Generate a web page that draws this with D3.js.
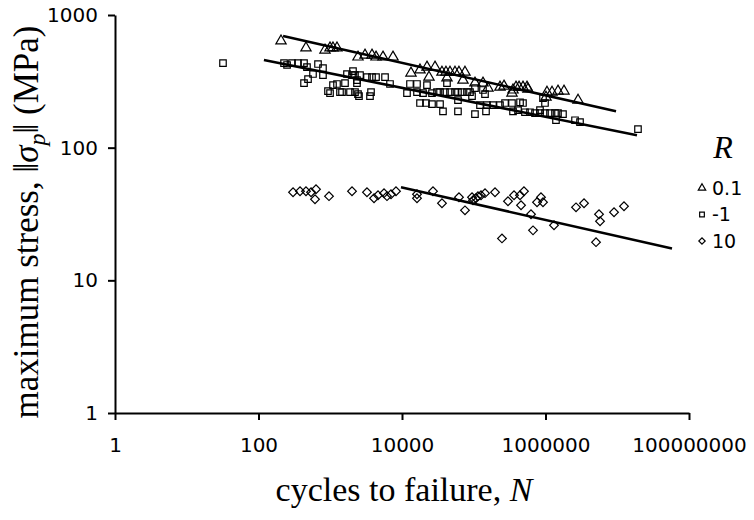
<!DOCTYPE html>
<html>
<head>
<meta charset="utf-8">
<script src="https://cdn.jsdelivr.net/npm/d3@7"></script>
<style>
  body { margin: 0; background: #fff; }
  svg { display: block; }
</style>
</head>
<body>
<svg id="chart" width="754" height="520"></svg>
<script>
// cycles to failure N, maximum stress (MPa)
const r01Points = [
  [206, 637], [459, 564], [845, 544], [993, 564], [1092, 564], [1242, 564],
  [2436, 482], [3050, 499], [3818, 499], [4343, 482], [5436, 482], [7490, 482],
  [13340, 365], [17820, 385], [22300, 405], [23780, 340], [28840, 405], [36070, 371],
  [41020, 371], [46670, 371], [54790, 371], [62250, 371], [75480, 371], [42360, 335],
  [70790, 323], [104000, 307], [134500, 307], [158000, 281], [232000, 286], [264000, 291],
  [352500, 272], [341000, 258], [388000, 286], [427500, 286], [485500, 286], [552000, 286],
  [570000, 276], [1049000, 262], [1233000, 262], [1493000, 267], [1810000, 267],
  [1016000, 240], [2840000, 228]
];

const rm1Points = [
  [32, 434], [227, 434], [250, 420], [293, 434], [355, 434], [431, 434], [474, 405],
  [675, 427], [792, 398], [575, 359], [792, 352], [490, 329], [431, 307], [930, 267],
  [993, 258], [1092, 296], [1242, 302], [1367, 262], [1606, 307], [1711, 359],
  [2010, 352], [2075, 378], [2212, 262], [2436, 253], [2358, 323], [2212, 352],
  [2600, 352], [3250, 340], [3818, 340], [4343, 340], [5800, 340], [2358, 307],
  [1459, 262], [1885, 262], [2516, 245], [3580, 245], [3700, 262], [6805, 302],
  [11740, 258], [12920, 302], [16180, 302], [22300, 296], [16180, 262], [19630, 258],
  [26190, 258], [30760, 262], [33880, 262], [39720, 262], [42360, 307], [46670, 262],
  [54790, 262], [60280, 262], [68550, 262], [80500, 262], [88660, 262], [60280, 228],
  [94600, 245], [104000, 281], [134500, 272], [143500, 253], [17820, 217], [21600, 217],
  [26190, 213], [33880, 213], [37250, 188], [60280, 188], [104000, 179], [148200, 188],
  [122200, 209], [153000, 209], [185500, 209], [232000, 209], [272800, 217], [341000, 217],
  [352500, 188], [441500, 220], [485500, 217], [414000, 192], [517500, 185], [608000, 185],
  [714000, 182], [838000, 192], [838000, 182], [984000, 182], [1156000, 182], [1356000, 182],
  [1493000, 182], [1753000, 179], [1400000, 161], [984000, 217], [923000, 236],
  [2578000, 161], [3027000, 156], [19450000, 138]
];

const r10Points = [
  [303, 46.1], [379, 47.0], [459, 47.0], [540, 46.1], [633, 48.6], [613, 40.8],
  [961, 43.1], [2010, 47.0], [3250, 46.1], [4074, 41.6], [4630, 43.8], [5613, 45.4],
  [6180, 43.1], [7025, 44.6], [8246, 47.0], [16180, 44.6], [16180, 41.6], [27040, 47.0],
  [36070, 38.1], [62250, 42.3], [75480, 33.7], [94600, 42.3], [97700, 40.2], [107400, 41.6],
  [114500, 43.1], [126200, 43.8], [143500, 45.4], [197800, 46.1], [247500, 20.7],
  [300000, 39.5], [364000, 43.8], [441500, 43.8], [501000, 47.0], [456000, 36.8],
  [628000, 31.5], [670000, 23.8], [762000, 38.8], [865000, 42.3], [923000, 38.8],
  [1314000, 26.0], [2663000, 35.5], [3442000, 38.1], [5059000, 19.4], [5572000, 31.5],
  [5753000, 27.9], [9016000, 32.6], [12420000, 36.2]
];

// fitted S-N lines, end points
const r01Fit = [[220, 695], [9617000, 188]];
const rm1Fit = [[119, 458], [18840000, 124]];
const r10Fit = [[9680, 50.3], [57940000, 17.4]];

const xTicks = [1, 100, 10000, 1000000, 100000000];
const yTicks = [1, 10, 100, 1000];
const legendLabels = ['0.1', '-1', '10'];

const svg = d3.select('#chart');
const sansFont = '"DejaVu Sans", Verdana, sans-serif';
const serifFont = '"Liberation Serif", "Times New Roman", serif';

const x = d3.scaleLog().domain([1, 1e8]).range([115, 689]);
const y = d3.scaleLog().domain([1, 1000]).range([413, 15]);

// axes
const xAxis = svg.append('g')
  .attr('transform', 'translate(0,413)')
  .call(d3.axisBottom(x).tickValues(xTicks).tickFormat(d3.format('d'))
    .tickSize(7).tickSizeOuter(0).tickPadding(18));

const yAxis = svg.append('g')
  .attr('transform', 'translate(115,0)')
  .call(d3.axisLeft(y).tickValues(yTicks).tickFormat(d3.format('d'))
    .tickSize(7).tickSizeOuter(0).tickPadding(10));

[xAxis, yAxis].forEach(g => {
  g.select('.domain').attr('stroke', '#000').attr('stroke-width', 2);
  g.selectAll('.tick line').attr('stroke', '#000').attr('stroke-width', 2);
  g.selectAll('.tick text')
    .attr('fill', '#000')
    .attr('font-family', sansFont)
    .attr('font-size', '20px');
});

// fit lines
const line = d3.line().x(d => x(d[0])).y(d => y(d[1]));
svg.append('g')
  .selectAll('path')
  .data([r01Fit, rm1Fit, r10Fit])
  .enter().append('path')
  .attr('d', line)
  .attr('fill', 'none')
  .attr('stroke', '#000')
  .attr('stroke-width', 2.5);

// markers
const triShape = d3.symbol().type(d3.symbolTriangle);
const sqShape = d3.symbol().type(d3.symbolSquare);

const series = [
  { data: r01Points, shape: triShape.size(46)(), rot: 0 },
  { data: rm1Points, shape: sqShape.size(42)(), rot: 0 },
  { data: r10Points, shape: sqShape.size(38)(), rot: 45 }
];

series.forEach(s => {
  svg.append('g')
    .selectAll('path')
    .data(s.data)
    .enter().append('path')
    .attr('d', s.shape)
    .attr('transform', d => `translate(${x(d[0])},${y(d[1])}) rotate(${s.rot})`)
    .attr('fill', 'none')
    .attr('stroke', '#000')
    .attr('stroke-width', 1.2);
});

// axis titles
svg.append('text')
  .attr('x', 404)
  .attr('y', 501)
  .attr('text-anchor', 'middle')
  .attr('font-family', serifFont)
  .attr('font-size', '34px')
  .call(t => {
    t.append('tspan').text('cycles to failure, ');
    t.append('tspan').attr('font-style', 'italic').text('N');
  });

svg.append('text')
  .attr('transform', 'translate(38,222) rotate(-90)')
  .attr('text-anchor', 'middle')
  .attr('font-family', serifFont)
  .attr('font-size', '35px')
  .call(t => {
    t.append('tspan').text('maximum stress, \u2016');
    t.append('tspan').attr('font-style', 'italic').text('\u03c3');
    t.append('tspan').attr('font-style', 'italic').attr('font-size', '24px').attr('dy', '0.3em').text('p');
    t.append('tspan').attr('dy', '-0.2em').text('\u2016 (MPa)');
  });

// legend
const legend = svg.append('g').attr('transform', 'translate(702,0)');
legend.append('text')
  .attr('x', 21)
  .attr('y', 158)
  .attr('text-anchor', 'middle')
  .attr('font-family', serifFont)
  .attr('font-style', 'italic')
  .attr('font-size', '32px')
  .text('R');

const legendShapes = [
  { shape: triShape.size(24)(), rot: 0 },
  { shape: sqShape.size(22)(), rot: 0 },
  { shape: sqShape.size(20)(), rot: 45 }
];

const legendItem = legend.selectAll('g.item')
  .data(legendLabels)
  .enter().append('g')
  .attr('class', 'item')
  .attr('transform', (d, i) => `translate(0,${188 + i * 26.5})`);

legendItem.append('path')
  .attr('d', (d, i) => legendShapes[i].shape)
  .attr('transform', (d, i) => `rotate(${legendShapes[i].rot})`)
  .attr('fill', 'none')
  .attr('stroke', '#000')
  .attr('stroke-width', 1.2);

legendItem.append('text')
  .attr('x', 10)
  .attr('dy', '0.35em')
  .attr('font-family', sansFont)
  .attr('font-size', '19px')
  .text(d => d);
</script>
</body>
</html>
